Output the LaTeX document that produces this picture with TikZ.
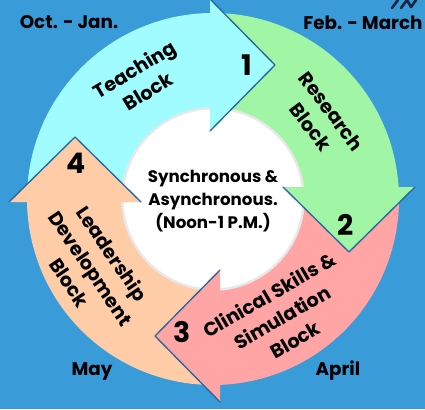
\documentclass[tikz,border=0pt]{standalone}
\usepackage{fontspec}
\setmainfont{Poppins}
\usetikzlibrary{calc,positioning}

\definecolor{bgblue}{RGB}{58,155,217}
\definecolor{tealblock}{RGB}{160,252,255}
\definecolor{greenblock}{RGB}{160,246,164}
\definecolor{pinkblock}{RGB}{255,165,165}
\definecolor{peachblock}{RGB}{255,204,168}
\definecolor{edgeblue}{RGB}{38,104,158}
\definecolor{logonavy}{RGB}{20,40,70}

\begin{document}
\begin{tikzpicture}[line cap=round,line join=round,x=0.6pt,y=0.6pt]
  \tikzset{
  % text styles
  blocktext/.style={font=\bfseries\fontsize{11.5}{15.5}\selectfont, align=center, inner sep=0pt},
  numtext/.style={font=\bfseries\fontsize{17}{17}\selectfont, inner sep=0pt, anchor=base},
  monthtext/.style={font=\bfseries\fontsize{11}{13}\selectfont, inner sep=0pt, anchor=base},
  centertext/.style={font=\bfseries\fontsize{10}{14}\selectfont, align=center, inner sep=0pt},
  % dark line along the slanted sides of a head
  headedge/.style={draw=edgeblue, line width=0.8pt},
}

\fill[bgblue] (0,0) rectangle (425,409);
\useasboundingbox (0,0) rectangle (425,409);
\coordinate (C) at (213,210);

% white middle with a soft rim
\fill[white] (C) circle [radius=92];
\draw[gray!18, line width=3pt] (C) circle [radius=92];

% ring pieces: start angle / end angle / colour
\foreach \a/\b/\col in {180/90/tealblock, 90/3/greenblock, 3/-89/pinkblock, -89/-180/peachblock}{
  \fill[\col] ($(C)+(\a:186)$) arc[start angle=\a, end angle=\b, radius=186]
    -- ($(C)+(\b:92)$) arc[start angle=\b, end angle=\a, radius=92] -- cycle;
}

% heads: middle of back edge / direction / colour
\foreach \mx/\my/\d/\col in {210/344/0/tealblock, 349/222/-90/greenblock, 220/73/180/pinkblock, 75/207/90/peachblock}{
  \coordinate (hb) at (\mx,\my);
  \fill[\col] ($(hb)+(\d+90:66)$) -- ($(hb)+(\d:65)$) -- ($(hb)+(\d-90:66)$) -- cycle;
  \draw[headedge] ($(hb)+(\d+90:66)$) -- ($(hb)+(\d:65)$) -- ($(hb)+(\d-90:66)$);
}

% bit of a logo cut by the top edge
\draw[logonavy, line width=1.6pt] (392,401) -- (398,409) (401,401) -- (407,409) -- (411,402) -- (416,409);

\node[blocktext, rotate=31] (teach) at (141,329) {Teaching\\Block};
\node[blocktext, rotate=-53] (research) at (321,290) {Research\\Block};
\node[blocktext, rotate=30] (clinical) at (282,92) {Clinical Skills \&\\Simulation\\Block};
\node[blocktext, rotate=-56] (leader) at (91,141) {Leadership\\Development\\Block};
\node[centertext] (sync) at (213,208) {Synchronous \&\\Asynchronous.\\(Noon-1 P.M.)};

\node[numtext] (one) at (247,334) {1};
\node[numtext] (two) at (346,174) {2};
\node[numtext] (three) at (182,67) {3};
\node[numtext] (four) at (76,236) {4};

\node[monthtext] (octjan) at (69,381) {Oct. - Jan.};
\node[monthtext, anchor=base west] (febmar) at (303,380) {Feb. - March};
\node[monthtext] (may) at (92,34) {May};
\node[monthtext] (april) at (338,34) {April};
\end{tikzpicture}
\end{document}
